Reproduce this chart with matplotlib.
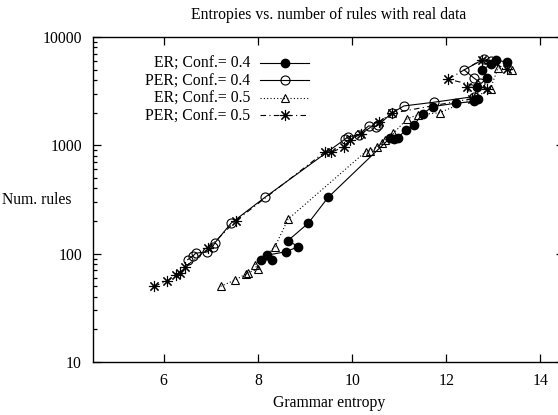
import matplotlib
matplotlib.use("Agg")
import matplotlib.pyplot as plt
from matplotlib.ticker import FixedLocator, LogLocator, NullFormatter, NullLocator

# ---- data ----
er04_x = [8.07, 8.29, 8.20, 8.59, 8.86, 8.64, 9.07, 9.49, 10.80, 10.90, 10.98, 11.14, 11.31,
          11.50, 11.71, 12.21, 12.59, 12.68, 12.66, 12.87, 12.76, 12.95, 13.06, 13.28]
er04_y = [87, 88, 97, 104, 116, 132, 191, 330, 1160, 1150, 1180, 1390, 1540,
          1950, 2280, 2450, 2540, 2670, 3480, 4170, 4970, 5600, 6150, 5850]

per04_x = [6.51, 6.62, 6.68, 6.93, 7.04, 7.09, 7.43, 8.15, 9.85, 9.92, 10.14, 10.35, 10.50,
           10.56, 10.84, 11.10, 11.74, 12.59, 12.72, 12.59, 12.38, 12.81, 12.95]
per04_y = [88, 95, 101, 104, 116, 126, 191, 331, 1140, 1200, 1250, 1510, 1490,
           1540, 1980, 2310, 2500, 2820, 3800, 4170, 4970, 6290, 6000]

er05_x = [7.21, 7.51, 7.75, 7.80, 8.00, 7.93, 8.36, 8.64, 10.29, 10.38, 10.53, 10.63, 10.70,
          10.88, 11.17, 11.39, 11.86, 12.59, 12.94, 13.10, 13.40]
er05_y = [50, 57, 65, 67, 72, 79, 115, 208, 874, 890, 973, 1050, 1120,
          1290, 1760, 1910, 2000, 2730, 3340, 5200, 4970]

per05_x = [5.80, 6.08, 6.26, 6.35, 6.45, 6.95, 7.53, 9.43, 9.56, 9.83, 9.95, 10.18, 10.57,
           10.85, 12.55, 12.44, 12.87, 12.04, 12.75, 13.29]
per05_y = [50, 56, 64, 67, 75, 112, 201, 874, 860, 973, 1120, 1270, 1655,
           1980, 2700, 3480, 3340, 4080, 6150, 5100]

labels = ["ER; Conf.= 0.4", "PER; Conf.= 0.4", "ER; Conf.= 0.5", "PER; Conf.= 0.5"]
title = "Entropies vs. number of rules with real data"
xlabel = "Grammar entropy"
ylabel = "Num. rules"
xticks = [6, 8, 10, 12, 14]
yticks = [10, 100, 1000, 10000]

FS = 11.3
plt.rcParams['font.family'] = ['Liberation Serif', 'DejaVu Serif']
plt.rcParams['font.size'] = FS

W, H = 558, 415
fig = plt.figure(figsize=(W / 100, H / 100), dpi=100)
ax = fig.add_axes([93 / W, 1 - 362 / H, (564 - 93) / W, (362 - 37) / H])

lw = 0.8
asterisk = (8, 2, 0)
ax.plot(er04_x, er04_y, '-', color='black', lw=lw, marker='o', ms=6,
        mfc='black', mec='black', label=labels[0])
ax.plot(per04_x, per04_y, '-', color='black', lw=lw, marker='o', ms=6.5,
        mfc='none', mec='black', mew=0.8, label=labels[1])
ax.plot(er05_x, er05_y, linestyle=(0, (1, 2)), color='black', lw=lw, marker='^', ms=6,
        mfc='none', mec='black', mew=0.8, label=labels[2])
ax.plot(per05_x, per05_y, linestyle=(0, (5, 3, 1, 3)), color='black', lw=lw, marker=asterisk,
        ms=8, mfc='none', mec='black', mew=0.8, label=labels[3])

ax.set_yscale('log')
ax.set_xlim(4.5, 14.5)
ax.set_ylim(10, 10000)
ax.xaxis.set_major_locator(FixedLocator(xticks))
ax.xaxis.set_minor_locator(NullLocator())
ax.yaxis.set_major_locator(FixedLocator(yticks))
ax.yaxis.set_minor_locator(LogLocator(base=10, subs=range(2, 10)))
ax.yaxis.set_minor_formatter(NullFormatter())
ax.set_xticklabels([str(t) for t in xticks])
ax.set_yticklabels([str(t) for t in yticks])
ax.tick_params(which='both', direction='in', top=True, right=True, colors='black',
               labelsize=FS, width=0.9)
ax.tick_params(which='major', length=6, pad=8)
ax.tick_params(which='minor', length=3)
for s in ax.spines.values():
    s.set_linewidth(1.0)

fig.text(329 / W, 1 - 15 / H, title, ha='center', va='center', fontsize=FS)
fig.text(329 / W, 1 - 403 / H, xlabel, ha='center', va='center', fontsize=FS)
fig.text(37 / W, 1 - 200 / H, ylabel, ha='center', va='center', fontsize=FS)

leg = ax.legend(loc='upper right', bbox_to_anchor=(309 / W, 1 - 56 / H),
                bbox_transform=fig.transFigure, frameon=False, markerfirst=False,
                handlelength=3.1, handletextpad=0.64, labelspacing=0.1,
                borderpad=0, borderaxespad=0, fontsize=FS)

fig.savefig('out.png', dpi=100)
